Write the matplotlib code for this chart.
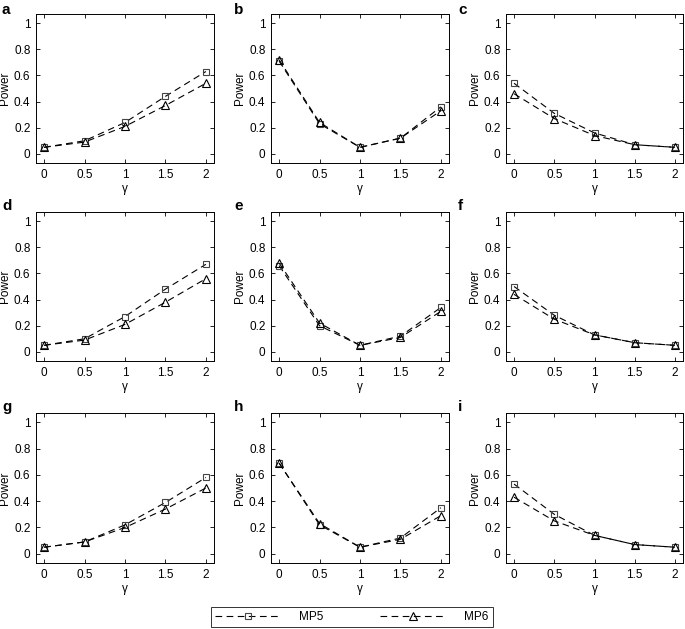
import matplotlib
matplotlib.use("Agg")
import matplotlib.pyplot as plt
from matplotlib.lines import Line2D

plt.rcParams['font.family'] = ['Liberation Sans', 'DejaVu Sans']

gamma = [0, 0.5, 1, 1.5, 2]
xticklabels = ['0', '0.5', '1', '1.5', '2']
yticks = [0, 0.2, 0.4, 0.6, 0.8, 1]
yticklabels = ['0', '0.2', '0.4', '0.6', '0.8', '1']
panel_labels = ['a', 'b', 'c', 'd', 'e', 'f', 'g', 'h', 'i']
series_names = ['MP5', 'MP6']

mp5_a = [0.05, 0.10, 0.24, 0.44, 0.63]
mp6_a = [0.05, 0.09, 0.21, 0.37, 0.54]
mp5_b = [0.71, 0.23, 0.05, 0.12, 0.36]
mp6_b = [0.72, 0.24, 0.05, 0.12, 0.33]
mp5_c = [0.54, 0.31, 0.16, 0.07, 0.05]
mp6_c = [0.46, 0.27, 0.14, 0.07, 0.05]
mp5_d = [0.05, 0.10, 0.27, 0.48, 0.67]
mp6_d = [0.05, 0.09, 0.21, 0.38, 0.56]
mp5_e = [0.66, 0.20, 0.05, 0.12, 0.34]
mp6_e = [0.68, 0.22, 0.05, 0.11, 0.31]
mp5_f = [0.50, 0.28, 0.13, 0.07, 0.05]
mp6_f = [0.44, 0.25, 0.13, 0.07, 0.05]
mp5_g = [0.05, 0.09, 0.22, 0.39, 0.58]
mp6_g = [0.05, 0.09, 0.20, 0.34, 0.50]
mp5_h = [0.69, 0.22, 0.05, 0.12, 0.35]
mp6_h = [0.69, 0.23, 0.05, 0.11, 0.29]
mp5_i = [0.53, 0.30, 0.14, 0.07, 0.05]
mp6_i = [0.43, 0.25, 0.14, 0.07, 0.05]

mp5_all = [mp5_a, mp5_b, mp5_c, mp5_d, mp5_e, mp5_f, mp5_g, mp5_h, mp5_i]
mp6_all = [mp6_a, mp6_b, mp6_c, mp6_d, mp6_e, mp6_f, mp6_g, mp6_h, mp6_i]

W, H = 685, 629
fig = plt.figure(figsize=(W / 100, H / 100), dpi=100)

col_left = [36, 271, 506]
col_right = [214, 449, 683]
row_top = [14, 212, 413]
row_bot = [163, 361, 563]
label_x = [2, 234, 458]
label_y = [3, 199, 400]

fs = 8.5
ls = (0, (6, 4))
for k in range(9):
    r, c = divmod(k, 3)
    l, rr = col_left[c], col_right[c]
    t, b = row_top[r], row_bot[r]
    ax = fig.add_axes([l / W, 1 - b / H, (rr - l) / W, (b - t) / H])
    ax.plot(gamma, mp5_all[k], linestyle=ls, color='black', lw=0.8,
            marker='s', markersize=4.6, markerfacecolor='none', markeredgecolor='#444444',
            markeredgewidth=0.8)
    ax.plot(gamma, mp6_all[k], linestyle=ls, color='black', lw=0.8,
            marker='^', markersize=6, markerfacecolor='none', markeredgecolor='black',
            markeredgewidth=0.8)
    ax.set_xlim(-0.1, 2.1)
    ax.set_ylim(-0.07, 1.07)
    ax.set_xticks(gamma)
    ax.set_xticklabels(xticklabels, fontsize=fs)
    ax.set_yticks(yticks)
    ax.set_yticklabels(yticklabels, fontsize=fs)
    ax.tick_params(direction='in', top=True, right=True, length=3, width=0.6, pad=4)
    for s in ax.spines.values():
        s.set_linewidth(0.7)
    ax.set_xlabel('γ', fontsize=fs, labelpad=2)
    ax.set_ylabel('Power', fontsize=fs, labelpad=2)
    fig.text(label_x[c] / W, 1 - label_y[r] / H, panel_labels[k], fontsize=11,
             fontweight='bold', va='top', ha='left')

handles = [
    Line2D([], [], linestyle=ls, color='black', lw=0.8, marker='s', markersize=4.5,
           markerfacecolor='none', markeredgecolor='#444444', markeredgewidth=0.8),
    Line2D([], [], linestyle=ls, color='black', lw=0.8, marker='^', markersize=5.5,
           markerfacecolor='none', markeredgecolor='black', markeredgewidth=0.8),
]
leg = fig.legend(handles, series_names, loc='center', bbox_to_anchor=(352 / W, 1 - 617 / H),
                 ncol=2, fontsize=8.5, frameon=True, fancybox=False, edgecolor='black',
                 handlelength=5.5, columnspacing=4.8, borderpad=0.35, handletextpad=1.6)
leg.get_frame().set_linewidth(0.7)

fig.savefig('out.png', dpi=100)
